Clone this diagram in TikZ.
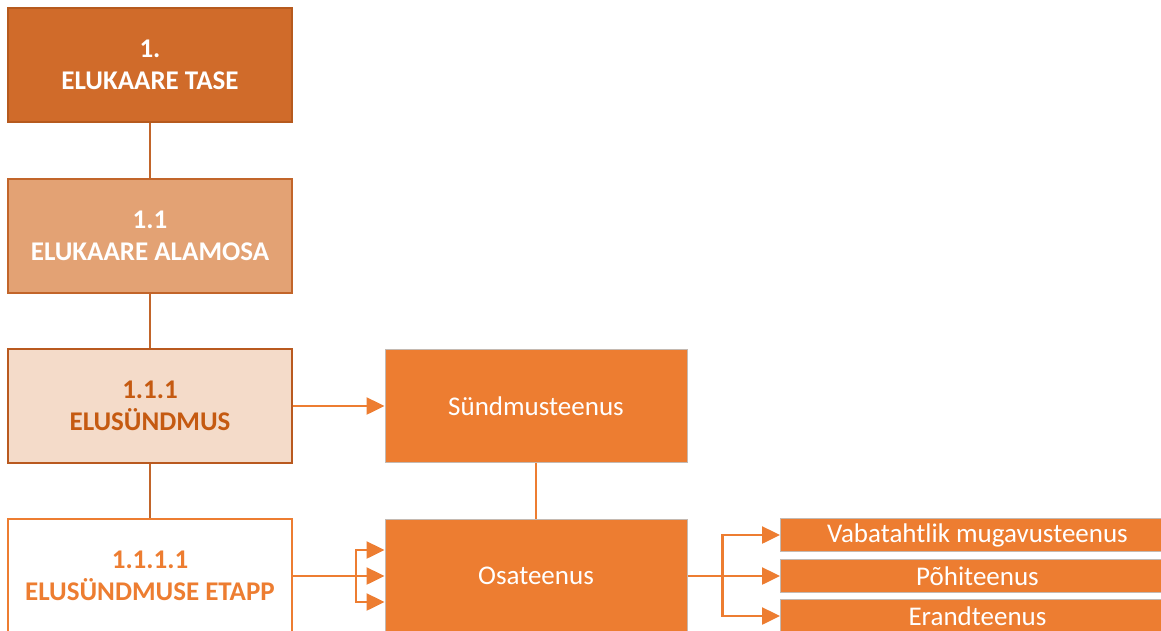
\documentclass[tikz,border=0pt]{standalone}
\usepackage{fontspec}
\setmainfont{Carlito}
\usetikzlibrary{arrows.meta,calc}
\definecolor{lvlonefill}{HTML}{D06B2A}
\definecolor{lvloneline}{HTML}{B65A1E}
\definecolor{lvltwofill}{HTML}{E3A274}
\definecolor{lvltwoline}{HTML}{C2652A}
\definecolor{lvlthreefill}{HTML}{F4DBC9}
\definecolor{lvlthreeline}{HTML}{B9591F}
\definecolor{darktext}{HTML}{C55A11}
\definecolor{accent}{HTML}{ED7D31}
\definecolor{greyline}{HTML}{C4B9B1}
\tikzset{
  levelbox/.style={rectangle, minimum width=284pt, minimum height=114pt, inner sep=0pt,
    align=center, line width=1.5pt, font=\fontsize{27}{32}\selectfont\bfseries},
  lvlone/.style={levelbox, fill=lvlonefill, draw=lvloneline, text=white},
  lvltwo/.style={levelbox, fill=lvltwofill, draw=lvltwoline, text=white},
  lvlthree/.style={levelbox, fill=lvlthreefill, draw=lvlthreeline, text=darktext},
  lvlfour/.style={levelbox, fill=white, draw=accent, text=accent},
  servbox/.style={rectangle, minimum width=302pt, minimum height=113pt, inner sep=0pt,
    fill=accent, draw=greyline, line width=1pt, text=white, font=\fontsize{27}{32}\selectfont},
  kindbox/.style={rectangle, minimum width=394pt, minimum height=33pt, inner sep=0pt,
    fill=accent, draw=greyline, line width=1pt, text=white, font=\fontsize{27}{30}\selectfont},
  tree/.style={draw=lvltwoline, line width=2pt},
  arr/.style={draw=accent, line width=2.5pt, -{Triangle[length=18pt,width=17pt]}},
  plain/.style={draw=accent, line width=2.5pt}
}
\begin{document}
\begin{tikzpicture}[x=1pt,y=-1pt]
\clip (0,0) rectangle (1161,630);
\fill[white] (0,0) rectangle (1161,630);

% hierarchy column
\node[lvlone]   (tase)    at (150,65)  {1.\\ELUKAARE TASE};
\node[lvltwo]   (alam)    at (150,236) {1.1\\ELUKAARE ALAMOSA};
\node[lvlthree] (syndmus) at (150,406) {1.1.1\\ELUSÜNDMUS};
\node[lvlfour]  (etapp)   at (150,576) {1.1.1.1\\ELUSÜNDMUSE ETAPP};

\draw[tree] (tase.south) -- (alam.north);
\draw[tree] (alam.south) -- (syndmus.north);
\draw[tree] (syndmus.south) -- (etapp.north);

% services
\node[servbox] (sundteenus) at (536,406) {Sündmusteenus};
\node[servbox] (osa)        at (536,576) {Osateenus};
\draw[plain] (sundteenus.south) -- (osa.north);

% service kinds
\node[kindbox, anchor=west] (vaba)  at (780,535) {Vabatahtlik mugavusteenus};
\node[kindbox, anchor=west] (pohi)  at (780,576) {Põhiteenus};
\node[kindbox, anchor=west] (erand) at (780,616) {Erandteenus};

% connectors
\draw[arr] (syndmus.east) -- (sundteenus.west);

\draw[plain] (etapp.east) -- ++(63,0) coordinate (forkleft);
\draw[arr] (forkleft) -- (osa.west);
\draw[arr] (forkleft) |- ($(osa.west)+(0,-26)$);
\draw[arr] (forkleft) |- ($(osa.west)+(0,26)$);

\draw[plain] (osa.east) -- ++(35,0) coordinate (forkright);
\draw[arr] (forkright) |- (vaba.west);
\draw[arr] (forkright) -- (pohi.west);
\draw[arr] (forkright) |- (erand.west);
\end{tikzpicture}
\end{document}
